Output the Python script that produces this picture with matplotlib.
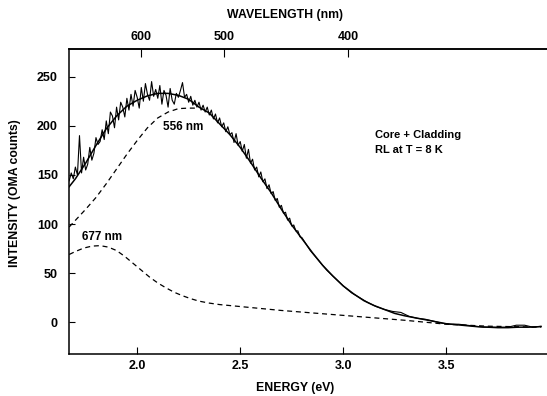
"""
plot.py
-------
Low-temperature RL spectrum of the core + cladding sample, with the
two Gaussian components (556 nm and 677 nm) of the fit drawn dashed.

Run:
    python plot.py
Outputs:
    out.png
"""

import matplotlib.pyplot as plt

# measured spectrum (OMA counts vs photon energy, eV)
data_energy = [
    1.67, 1.68, 1.69, 1.70, 1.71, 1.72, 1.73, 1.74, 1.75, 1.76,
    1.77, 1.78, 1.79, 1.80, 1.81, 1.82, 1.83, 1.84, 1.85, 1.86,
    1.87, 1.88, 1.89, 1.90, 1.91, 1.92, 1.93, 1.94, 1.95, 1.96,
    1.97, 1.98, 1.99, 2.00, 2.01, 2.02, 2.03, 2.04, 2.05, 2.06,
    2.07, 2.08, 2.09, 2.10, 2.11, 2.12, 2.13, 2.14, 2.15, 2.16,
    2.17, 2.18, 2.19, 2.20, 2.21, 2.22, 2.23, 2.24, 2.25, 2.26,
    2.27, 2.28, 2.29, 2.30, 2.31, 2.32, 2.33, 2.34, 2.35, 2.36,
    2.37, 2.38, 2.39, 2.40, 2.41, 2.42, 2.43, 2.44, 2.45, 2.46,
    2.47, 2.48, 2.49, 2.50, 2.51, 2.52, 2.53, 2.54, 2.55, 2.56,
    2.57, 2.58, 2.59, 2.60, 2.61, 2.62, 2.63, 2.64, 2.65, 2.66,
    2.67, 2.68, 2.69, 2.70, 2.71, 2.72, 2.73, 2.74, 2.75, 2.76,
    2.77, 2.78, 2.79, 2.80, 2.84, 2.88, 2.92, 2.96, 3.00, 3.04,
    3.08, 3.12, 3.16, 3.20, 3.24, 3.28, 3.32, 3.36, 3.40, 3.44,
    3.48, 3.52, 3.56, 3.60, 3.64, 3.68, 3.72, 3.76, 3.80, 3.84,
    3.88, 3.92, 3.96,
]
data_counts = [
    144, 152, 146, 158, 150, 190, 152, 168, 155, 161,
    178, 165, 172, 188, 181, 184, 196, 186, 205, 192,
    214, 210, 198, 219, 206, 224, 219, 209, 228, 216,
    232, 220, 236, 229, 218, 239, 225, 243, 232, 226,
    245, 230, 237, 228, 241, 222, 236, 231, 219, 238,
    226, 222, 233, 229, 236, 244, 229, 232, 224, 230,
    221, 226, 219, 224, 216, 221, 214, 219, 211, 216,
    207, 212, 203, 208, 199, 203, 194, 199, 191, 193,
    183, 192, 180, 184, 174, 181, 167, 176, 162, 166,
    155, 158, 148, 153, 143, 146, 136, 140, 131, 133,
    124, 126, 117, 119, 111, 112, 104, 106, 98, 99,
    93, 93, 87, 86, 73, 63, 53, 45, 37, 30,
    25, 20, 16, 13, 11, 10, 6, 4, 3, 1,
    -1, -2, -2, -3, -4, -5, -5, -5, -5, -3,
    -3, -5, -4,
]

# total fit (solid)
fit_energy = [
    1.67, 1.70, 1.75, 1.80, 1.85, 1.90, 1.95, 2.00, 2.05, 2.10,
    2.15, 2.20, 2.25, 2.30, 2.35, 2.40, 2.45, 2.50, 2.55, 2.60,
    2.65, 2.70, 2.75, 2.80, 2.85, 2.90, 2.95, 3.00, 3.05, 3.10,
    3.15, 3.20, 3.25, 3.30, 3.35, 3.40, 3.45, 3.50, 3.55, 3.60,
    3.65, 3.70, 3.75, 3.80, 3.85, 3.90, 3.96,
]
fit_counts = [
    138, 146, 162, 180, 197, 210, 220, 226, 230.5, 233,
    233, 231, 227, 219, 213, 202, 191, 178, 163, 147,
    132, 115, 99, 85, 71, 58, 47, 37, 29, 22,
    17, 13, 9, 6.5, 4.5, 2.5, 0.5, -1.5, -2.5, -3.5,
    -4.5, -5, -5.5, -5.5, -5, -5, -4.5,
]

# 556 nm component (dashed, hidden under the fit above ~2.3 eV)
comp556_energy = [1.67, 1.75, 1.80, 1.85, 1.90, 1.95, 2.00, 2.05, 2.10, 2.15, 2.20, 2.25, 2.29]
comp556_counts = [97, 115, 127, 141, 156, 171, 185, 198, 208, 214, 217.5, 218, 218]

# 677 nm component (dashed)
comp677_energy = [
    1.67, 1.70, 1.74, 1.78, 1.82, 1.86, 1.90, 1.94, 1.98, 2.02,
    2.06, 2.10, 2.14, 2.18, 2.22, 2.26, 2.30, 2.35, 2.40, 2.50,
    2.70, 3.00, 3.30, 3.50, 3.70, 3.96,
]
comp677_counts = [
    69, 72, 75.5, 77.5, 78, 76.5, 73, 67, 60, 53,
    46, 40, 35, 30.5, 27, 24, 21.5, 19.5, 18, 16,
    12, 7, 2, -2, -4, -5,
]

energy_ticks = [2.0, 2.5, 3.0, 3.5]
intensity_ticks = [0, 50, 100, 150, 200, 250]
wavelength_ticks = [600, 500, 400]

HC = 1210.0  # nm*eV, matches the top scale as printed

FONT = ["Liberation Sans", "DejaVu Sans"]


def run():
    plt.rcParams["font.family"] = FONT
    plt.rcParams["font.weight"] = "bold"

    fig = plt.figure(figsize=(5.47, 3.96), dpi=100)
    ax = fig.add_axes([0.1261, 0.1061, 0.8739, 0.7702])

    ax.plot(data_energy, data_counts, color="black", linewidth=0.8)
    ax.plot(fit_energy, fit_counts, color="black", linewidth=1.1)
    ax.plot(comp556_energy, comp556_counts, color="black", linewidth=0.9, linestyle=(0, (4, 3)))
    ax.plot(comp677_energy, comp677_counts, color="black", linewidth=0.9, linestyle=(0, (4, 3)))

    ax.set_xlim(1.669, 3.989)
    ax.set_ylim(-32.3, 278.2)
    ax.set_xticks(energy_ticks)
    ax.set_xticklabels([f"{t:.1f}" for t in energy_ticks])
    ax.set_yticks(intensity_ticks)

    ax.spines["right"].set_visible(False)
    for side in ("left", "bottom", "top"):
        ax.spines[side].set_linewidth(1.1)
    ax.tick_params(axis="x", direction="in", length=5, width=0.8, labelsize=9, pad=4)
    ax.tick_params(axis="y", direction="in", length=4, width=0.8, labelsize=9, pad=8)

    ax.set_xlabel("ENERGY (eV)", fontsize=8.8, fontweight="bold")
    ax.xaxis.set_label_coords(0.473, -0.092)
    ax.set_ylabel("INTENSITY (OMA counts)", fontsize=8.8, fontweight="bold")
    ax.yaxis.set_label_coords(-0.100, 0.528)

    top = ax.secondary_xaxis("top", functions=(lambda e: HC / e, lambda w: HC / w))
    top.set_xticks(wavelength_ticks)
    top.tick_params(direction="in", length=6, width=0.8, labelsize=9, pad=4)
    top.spines["top"].set_linewidth(1.1)
    top.set_xlabel("WAVELENGTH (nm)", fontsize=8.8, fontweight="bold")
    top.xaxis.label.set_verticalalignment("center")
    # coordinates relative to the main axes box
    top.xaxis.set_label_coords(0.452, 1.111, transform=ax.transAxes)

    ax.text(2.123, 199, "556 nm", fontsize=8.5, fontweight="bold", va="center", ha="left")
    ax.text(1.732, 87, "677 nm", fontsize=8.5, fontweight="bold", va="center", ha="left")
    ax.text(3.154, 190.5, "Core + Cladding", fontsize=8, fontweight="bold", va="center", ha="left")
    ax.text(3.154, 175, "RL at T = 8 K", fontsize=8, fontweight="bold", va="center", ha="left")

    fig.savefig("out.png", dpi=100)
    plt.close(fig)


if __name__ == "__main__":
    run()
